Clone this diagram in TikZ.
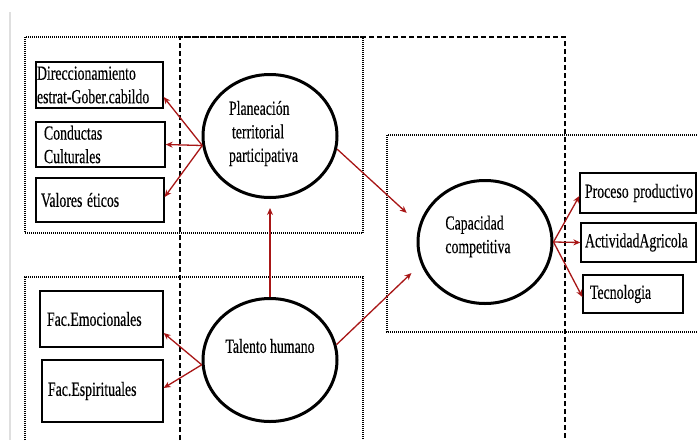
\documentclass[tikz,border=0pt]{standalone}
\usepackage{fontspec}
\usepackage{graphicx}
\setmainfont[FakeBold=0.4]{Liberation Serif}
\usetikzlibrary{shapes.geometric,arrows.meta,calc}
\definecolor{arrred}{RGB}{168,22,22}
\newcommand{\nx}[1]{\scalebox{0.69}[1]{#1}}
\begin{document}
\begin{tikzpicture}[x=1pt,y=-1pt,
  every node/.style={font=\fontsize{20}{23.5}\selectfont},
  box/.style={draw, line width=1.3pt, align=left, inner ysep=0pt},
  circ/.style={draw, ellipse, line width=3pt, minimum width=134pt, minimum height=123pt, inner sep=0pt},
  lbl/.style={align=left, inner sep=0pt},
  arr/.style={draw=arrred, line width=1.3pt, -{Stealth[length=7pt,width=6pt]}},
  dotbox/.style={line width=1.2pt, dash pattern=on 1pt off 1pt},
  dashbox/.style={line width=1.1pt, dash pattern=on 5pt off 3pt}]
\useasboundingbox (0,0) rectangle (697,440);
\fill[white] (0,0) rectangle (697,440);
\draw[gray!25, line width=1.5pt] (10,12) -- (10,440);
% group frames
\draw[dotbox] (25,37) rectangle (363,233);
\draw[dotbox] (25,440) -- (25,277) -- (363,277) -- (363,440);
\draw[dotbox] (697,135) -- (387,135) -- (387,332) -- (697,332);
\draw[dashbox] (180,440) -- (180,37) -- (565,37) -- (565,440);
% boxes
\node[box, minimum width=127pt, minimum height=46pt, inner xsep=1pt, text width=125pt] (dir) at (99.5,85) {\nx{Direccionamiento}\\\nx{estrat-Gober.cabildo}};
\node[box, minimum width=129pt, minimum height=45pt, inner xsep=8pt, text width=113pt] (cond) at (100.5,144.5) {\nx{Conductas}\\\nx{Culturales}};
\node[box, minimum width=128pt, minimum height=44pt, inner xsep=5pt, text width=118pt] (val) at (100,200) {\nx{Valores éticos}};
\node[box, minimum width=123pt, minimum height=56pt, inner xsep=7pt, text width=109pt] (emo) at (101.5,319) {\nx{Fac.Emocionales}};
\node[box, minimum width=121pt, minimum height=62pt, inner xsep=6pt, text width=109pt] (esp) at (102.5,391) {\nx{Fac.Espirituales}};
\node[box, minimum width=116pt, minimum height=40pt, inner xsep=5pt, text width=106pt] (proc) at (638,193) {\nx{Proceso productivo}};
\node[box, minimum width=115pt, minimum height=39pt, inner xsep=4pt, text width=107pt] (act) at (638.5,242.5) {\nx{ActividadAgricola}};
\node[box, minimum width=100pt, minimum height=38pt, inner xsep=7pt, text width=86pt] (tec) at (633,294) {\nx{Tecnologia}};
% ellipses
\node[circ] (plan) at (270,136) {};
\node[circ] (tal) at (270,360) {};
\node[circ] (cap) at (485,242) {};
\node[lbl] (planT) at (263.5,133.5) {\nx{Planeación}\\\hspace{3pt}\nx{territorial}\\\nx{participativa}};
\node[lbl] (capT) at (478,236.5) {\nx{Capacidad}\\\nx{competitiva}};
\node[lbl] (talT) at (270,346) {\nx{Talento humano}};
% connectors
\draw[arr] (plan.188) -- ([yshift=-12pt]dir.east);
\draw[arr] (plan.188) -- (cond.east);
\draw[arr] (plan.188) -- ([yshift=3pt]val.east);
\draw[arr, shorten >=9pt] (tal.north) -- (plan.south);
\draw[arr, shorten >=17pt] (plan.-11) -- (cap.165);
\draw[arr, shorten >=13pt] (tal.13) -- (cap.199);
\draw[arr] (tal.184) -- ([yshift=-14pt]emo.east);
\draw[arr] (tal.184) -- ([yshift=3pt]esp.east);
\draw[arr] (cap.east) -- ([yshift=-3pt]proc.west);
\draw[arr] (cap.east) -- (act.west);
\draw[arr] (cap.east) -- ([yshift=-3pt]tec.west);
\end{tikzpicture}
\end{document}
